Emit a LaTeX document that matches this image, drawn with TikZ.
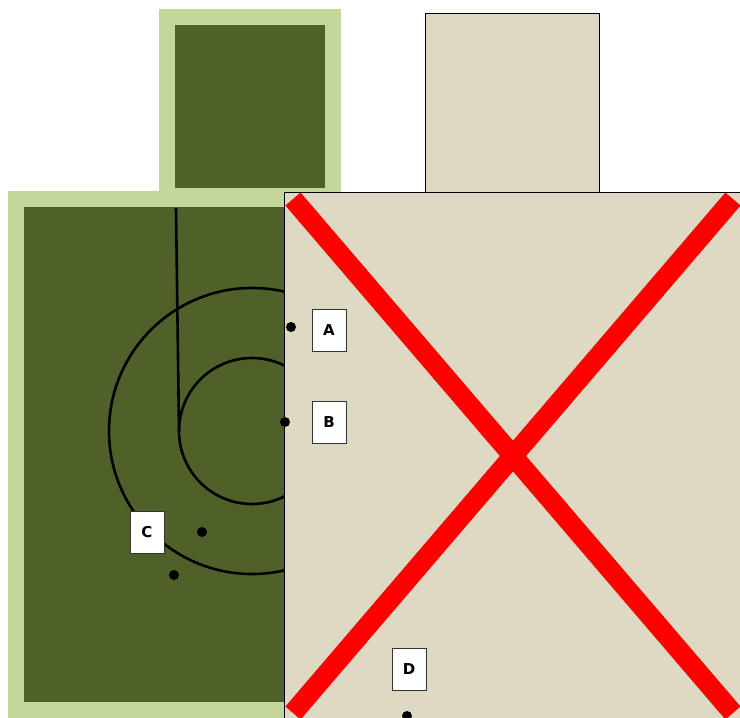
\documentclass[tikz,border=0pt]{standalone}
\usepackage{fontspec}
\setmainfont{DejaVu Sans}
\definecolor{leafdark}{RGB}{79,96,41}
\definecolor{leaflight}{RGB}{196,215,155}
\definecolor{khaki}{RGB}{221,217,195}

\begin{document}
\begin{tikzpicture}[
    x=1pt, y=-1pt,
    tag/.style={
        draw=black!80,
        line width=1pt,
        fill=white,
        rectangle,
        minimum width=34pt,
        minimum height=42pt,
        inner sep=0pt,
        font=\fontsize{15}{17}\selectfont\bfseries
    },
    hole/.style={
        circle,
        fill=black,
        minimum size=10pt,
        inner sep=0pt
    },
    board/.style={
        draw,
        thin,
        fill=khaki
    }
]
\useasboundingbox (0,0) rectangle (740,718);

% =====================
% SAGOMA VERDE
% =====================
\fill[leaflight] (159,9) rectangle (341,192);
\fill[leaflight] (8,191) rectangle (341,718);
\fill[leafdark] (175,25) rectangle (325,188);
\fill[leafdark] (24,207) rectangle (325,702);

% anelli
\draw[line width=2.6pt] (252,431) circle[radius=143pt];
\draw[line width=2.6pt] (252,431) circle[radius=73pt];

\coordinate (top) at (176,208);
\coordinate (ring) at (179,431);
\draw[line width=2.6pt] (top) -- (ring);

\node[hole] at (202,532) (h3) {};
\node[hole] at (174,575) (h4) {};

% =====================
% SAGOMA BEIGE
% =====================
\path[board] (425,13) rectangle (599,192);
\path[board] (284,192) rectangle (740,718);

% croce rossa
\coordinate (xa) at (293,199);
\coordinate (xb) at (733,713);
\coordinate (xc) at (733,199);
\coordinate (xd) at (293,713);
\draw[red, line width=20pt, line join=round] (xa) -- (xb);
\draw[red, line width=20pt, line join=round] (xc) -- (xd);

% =====================
% COLPI
% =====================
\node[hole] at (291,327) (h1) {};
\node[hole] at (285,422) (h2) {};
\node[hole] at (407,716) (h5) {};

\node[tag] at (329,330) (A) {A};
\node[tag] at (329,422) (B) {B};
\node[tag] at (147,532) (C) {C};
\node[tag] at (409,669) (D) {D};

\end{tikzpicture}
\end{document}
